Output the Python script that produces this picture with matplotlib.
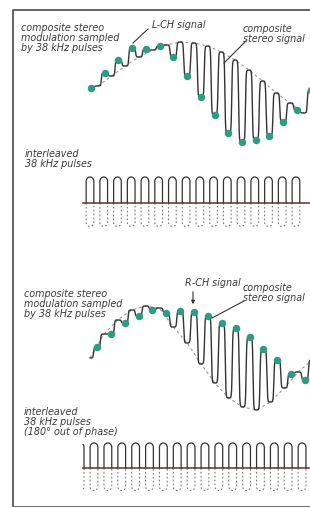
import numpy as np
import matplotlib.pyplot as plt

W, H = 310, 508

# sampled levels (arbitrary amplitude units)
top_dots = [0.62, 0.77, 0.90, 1.02, 1.01, 1.04, 0.93, 0.74, 0.53, 0.35,
            0.17, 0.08, 0.10, 0.14, 0.28, 0.40, 0.60]           # L-CH samples
top_env = [0.64, 0.74, 0.84, 0.93, 1.00, 1.05, 1.08, 1.07, 1.04, 0.98,
           0.90, 0.80, 0.69, 0.57, 0.47, 0.37]                   # other channel
bot_dots = [0.73, 0.86, 0.97, 1.04, 1.10, 1.07, 1.09, 1.08, 1.04, 0.97,
            0.92, 0.83, 0.71, 0.60, 0.46, 0.40]                  # R-CH samples
bot_env = [0.62, 0.86, 1.00, 1.10, 1.14, 1.12, 0.93, 0.77, 0.56, 0.37,
           0.22, 0.13, 0.10, 0.18, 0.32, 0.48, 0.60]             # other channel
n_pulses_top = 16
n_pulses_bot = 17

top_texts = ['composite stereo\nmodulation sampled\nby 38 kHz pulses', 'L-CH signal',
             'composite\nstereo signal', 'interleaved\n38 kHz pulses']
bot_texts = ['composite stereo\nmodulation sampled\nby 38 kHz pulses', 'R-CH signal',
             'composite\nstereo signal', 'interleaved\n38 kHz pulses\n(180° out of phase)']

INK = '#333333'
TXT = '#3c3c3c'
TEAL = '#2f9c82'
BASE = '#5a3434'


def overlay(fig, x0, dx, y0, dy):
    # full-figure axes whose data (t, a) lands at pixel x0 + dx*t, y0 - dy*a
    ax = fig.add_axes([0, 0, 1, 1])
    ax.set_xlim(-x0 / dx, (W - x0) / dx)
    ax.set_ylim((y0 - H) / dy, y0 / dy)
    ax.axis('off')
    ax.patch.set_alpha(0)
    return ax


def switching(t, s=3.5):
    return 0.5 + 0.5 * np.tanh(s * np.cos(2 * np.pi * t)) / np.tanh(s)


def draw_signal(ax, dots, env, env_off, t0, t1):
    dots = np.array(dots)
    env = np.array(env)
    td = np.arange(len(dots))
    te = np.arange(len(env)) + env_off
    t = np.linspace(t0, t1, 4000)
    d_hold = dots[np.clip(np.round(t).astype(int), 0, len(dots) - 1)]
    e_hold = env[np.clip(np.round(t - env_off).astype(int), 0, len(env) - 1)]
    comp = e_hold + (d_hold - e_hold) * switching(t)
    ax.plot(te, env, color='#9a9a9a', lw=0.8, ls=(0, (2.5, 2.5)))
    ax.plot(t, comp, color=INK, lw=1.0, solid_joinstyle='round')
    ax.plot(td, dots, 'o', ms=5.4, color=TEAL, mec='none', zorder=3)


def arch(w, r, top, npts=40):
    # straight sides with a round cap, in axis units
    a = np.linspace(np.pi, 0, npts)
    x = np.concatenate([[-w], w * np.cos(a), [w]])
    y = np.concatenate([[0], top - r + r * np.sin(a), [0]])
    return x, y


def draw_pulses(ax, n, first, x_start, x_end, w=0.28, r=0.17):
    ax.plot([x_start, x_end], [0, 0], color=BASE, lw=1.1, zorder=1)
    ux, uy = arch(w, r, 1.0)
    for k in range(first, first + n):
        x = k + ux
        keep = (x >= x_start) & (x <= x_end)
        ax.plot(x[keep], uy[keep], color=INK, lw=0.9, zorder=2)
        ax.plot(x[keep], -0.9 * uy[keep], color='#7a7a7a', lw=0.8,
                ls=(0, (1.5, 2.0)), zorder=1)


fig = plt.figure(figsize=(W / 100, H / 100), dpi=100)

# top half
ax = overlay(fig, 91, 13.73, 150, 100)
draw_signal(ax, top_dots, top_env, 0.5, 0.0, 16.0)
ax = overlay(fig, 90, 13.73, 203, 26)
draw_pulses(ax, n_pulses_top, 0, -0.5, 16.0)

# bottom half
ax = overlay(fig, 97, 13.87, 420, 100)
draw_signal(ax, bot_dots, bot_env, -0.5, -0.5, 15.6)
ax = overlay(fig, 94, 13.87, 468, 25)
draw_pulses(ax, n_pulses_bot, -1, -0.8, 16.0)

# frame, labels and leaders in pixel units
ax0 = overlay(fig, 0, 1, H, 1)
ax0.set_ylim(H, 0)
ax0.plot([13, 13, 330], [506, 10, 10], color='#555555', lw=1.3)
ax0.plot([13, 330], [506, 506], color='#777777', lw=0.8)

tk = dict(fontsize=6.9, style='italic', color=TXT, va='center', ha='left', linespacing=0.98)
ax0.text(21, 38, top_texts[0], **tk)
ax0.text(152, 25, top_texts[1], **tk)
ax0.text(243, 34, top_texts[2], **tk)
ax0.text(25, 159, top_texts[3], **tk)
ax0.text(24, 304, bot_texts[0], **tk)
ax0.text(185, 283, bot_texts[1], **tk)
ax0.text(243, 293, bot_texts[2], **tk)
ax0.text(24, 422, bot_texts[3], **tk)

ax0.plot([246, 224], [41, 63], color=INK, lw=0.8)
ax0.plot([148, 133], [29, 43], color=INK, lw=0.8)
ax0.plot([244, 212], [301, 318], color=INK, lw=0.8)
ax0.annotate('', xy=(193, 307), xytext=(193, 289),
             arrowprops=dict(arrowstyle='-|>', lw=0.8, color=INK, mutation_scale=5))

fig.savefig('out.png', dpi=100, facecolor='white')
